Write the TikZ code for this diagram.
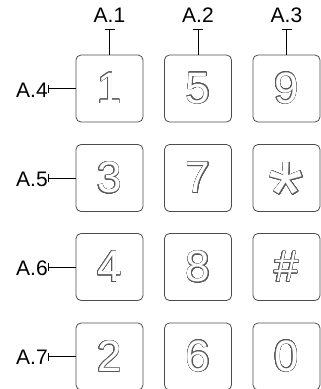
\documentclass[tikz,border=0pt]{standalone}
\usepackage{fontspec}
\setmainfont{Liberation Sans}
\usepackage[copies]{contour}
\contourlength{0.5pt}
\contournumber{32}
\newcommand{\dig}[1]{\contour{black!65}{\textcolor{white}{#1}}}
\tikzset{
  key/.style={draw=black!70, rounded corners=5pt, minimum size=67pt, inner sep=0pt, line width=0.8pt, font=\fontsize{44}{44}\selectfont},
  lab/.style={font=\fontsize{21}{21}\selectfont, inner sep=0pt},
  pin/.style={draw=black, line width=0.8pt}
}
\begin{document}
\begin{tikzpicture}[x=1pt,y=-1pt]
\useasboundingbox (0,0) rectangle (321,389);
% keys
\node[key] (k1) at (109.5,88.5) {\dig{1}};
\node[key] (k5) at (198,88.5) {\dig{5}};
\node[key] (k9) at (286.5,88.5) {\dig{9}};
\node[key] (k3) at (109.5,178) {\dig{3}};
\node[key] (k7) at (198,178) {\dig{7}};
\node[key] (ks) at (286.5,178) {\fontsize{90}{90}\selectfont\smash{\raisebox{-0.52em}{\dig{*}}}};
\node[key] (k4) at (109.5,267) {\dig{4}};
\node[key] (k8) at (198,267) {\dig{8}};
\node[key] (kh) at (286.5,267) {\dig{\#}};
\node[key] (k2) at (109.5,356.5) {\dig{2}};
\node[key] (k6) at (198,356.5) {\dig{6}};
\node[key] (k0) at (286.5,356.5) {\dig{0}};
% top labels
\node[lab] (a1) at (109.5,15) {A.1};
\node[lab] (a2) at (198,15) {A.2};
\node[lab] (a3) at (286.5,15) {A.3};
\coordinate (t1) at (109.5,29);
\coordinate (t2) at (198,29);
\coordinate (t3) at (286.5,29);
\foreach \t/\k in {t1/k1,t2/k5,t3/k9}{
  \draw[pin] (\t) -- (\k.north);
  \draw[pin] ([xshift=-5pt]\t) -- ([xshift=5pt]\t);
}
% left labels
\node[lab] (a4) at (32,90) {A.4};
\node[lab] (a5) at (32,179) {A.5};
\node[lab] (a6) at (32,268) {A.6};
\node[lab] (a7) at (32,357.5) {A.7};
\coordinate (l4) at (48,88.5);
\coordinate (l5) at (48,178);
\coordinate (l6) at (48,267);
\coordinate (l7) at (48,356.5);
\foreach \l/\k in {l4/k1,l5/k3,l6/k4,l7/k2}{
  \draw[pin] (\l) -- (\k.west);
  \draw[pin] ([yshift=-4pt]\l) -- ([yshift=4pt]\l);
}
\end{tikzpicture}
\end{document}
